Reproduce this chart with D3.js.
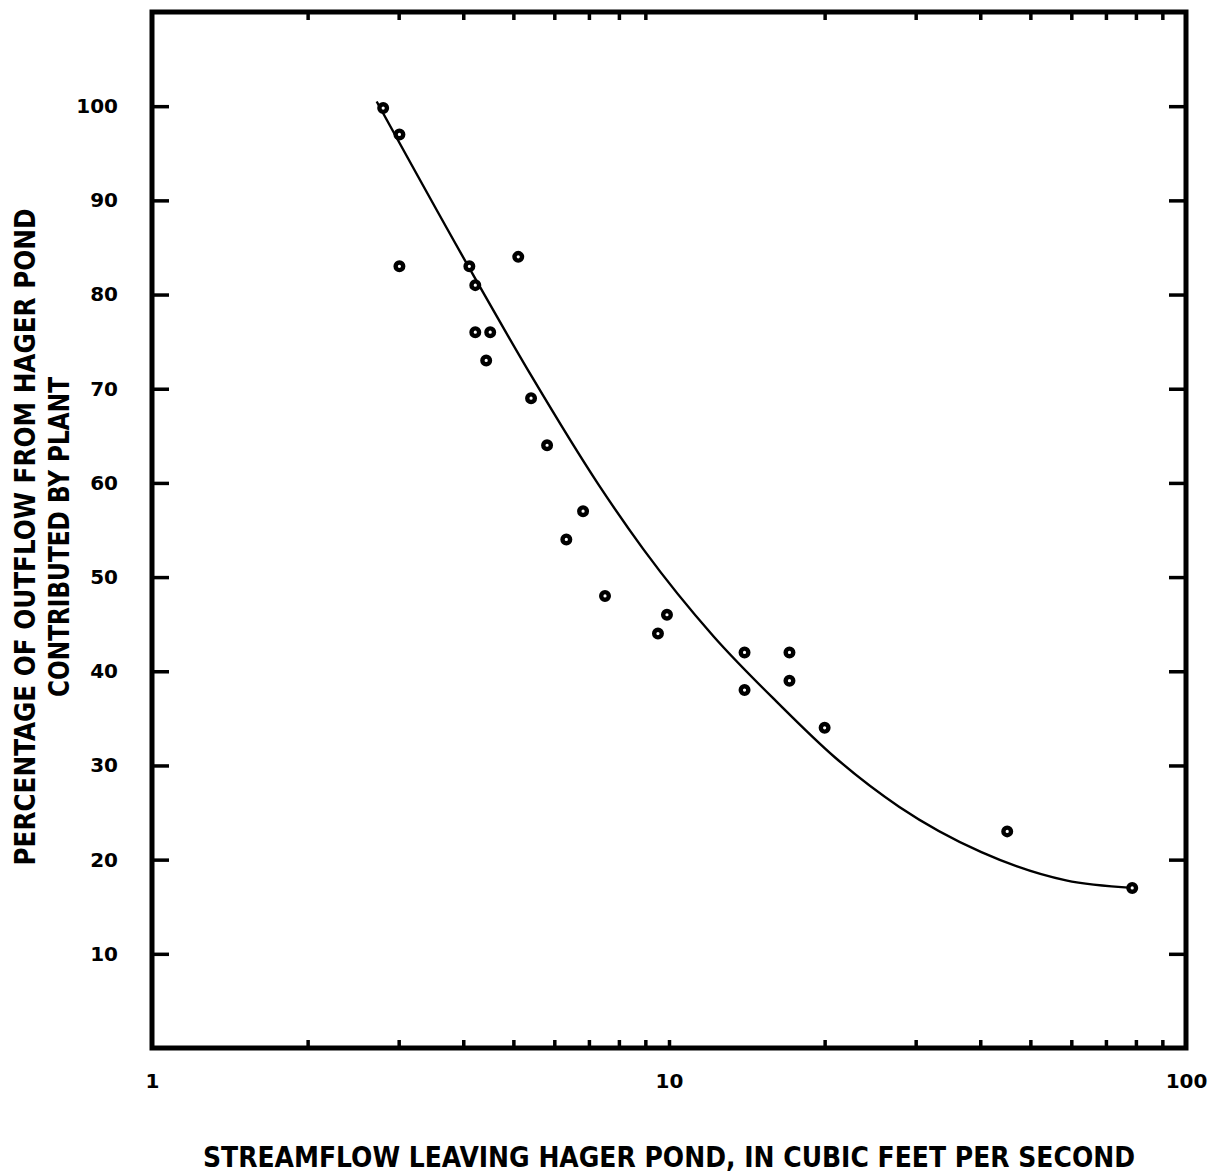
<!DOCTYPE html>
<html>
<head>
<meta charset="utf-8">
<script src="https://cdn.jsdelivr.net/npm/d3@7"></script>
<style>
  html, body { margin: 0; padding: 0; background: #fff; }
  svg { display: block; }
</style>
</head>
<body>
<div id="chart"></div>
<script>
// Observed points: streamflow (cfs) and percentage contributed by plant
var flowObs = [2.80, 3.01, 3.01, 4.11, 4.22, 4.22, 4.51, 4.43, 5.11, 5.41, 5.81,
               6.33, 6.82, 7.52, 9.52, 9.91, 14.0, 14.0, 17.1, 17.1, 20.0, 45.1, 78.7];
var pctObs  = [99.8, 97, 83, 83, 81, 76, 76, 73, 84, 69, 64,
               54, 57, 48, 44, 46, 42, 38, 42, 39, 34, 23, 17];

// Fitted curve
var flowCurve = [2.72, 4.11, 5.44, 7.29, 8.91, 12.2, 16.2, 20.9, 27.9, 40.2, 58.6, 78.7];
var pctCurve  = [100.5, 82.8, 71.2, 59.9, 53.0, 43.7, 36.7, 30.9, 25.6, 20.8, 17.8, 17.0];

var yTicks = [10, 20, 30, 40, 50, 60, 70, 80, 90, 100];
var xLabels = [1, 10, 100];
var xMinor = [2, 3, 4, 5, 6, 7, 8, 9, 20, 30, 40, 50, 60, 70, 80, 90];

var W = 1212, H = 1176;
var plotL = 152, plotR = 1186, plotT = 12, plotB = 1048;

var svg = d3.select('#chart').append('svg')
  .attr('width', W)
  .attr('height', H);

var x = d3.scaleLog().domain([1, 100]).range([plotL, plotR]);
var y = d3.scaleLinear().domain([0, 110]).range([plotB, plotT]);

var tickFont = 'DejaVu Sans, sans-serif';

// left axis, ticks pointing inward
var yLeft = svg.append('g')
  .attr('transform', 'translate(' + plotL + ',0)')
  .call(d3.axisLeft(y).tickValues(yTicks).tickSize(-17).tickPadding(34).tickFormat(d3.format('d')));

// right axis, ticks inward, no labels
var yRight = svg.append('g')
  .attr('transform', 'translate(' + plotR + ',0)')
  .call(d3.axisRight(y).tickValues(yTicks).tickSize(-17).tickFormat(''));

// bottom axis: labels at decades, minor ticks inward
var xBottom = svg.append('g')
  .attr('transform', 'translate(0,' + plotB + ')')
  .call(d3.axisBottom(x).tickValues(xLabels).tickSize(0).tickPadding(26).tickFormat(d3.format('d')));

var xBottomMinor = svg.append('g')
  .attr('transform', 'translate(0,' + plotB + ')')
  .call(d3.axisBottom(x).tickValues(xMinor.concat([10])).tickSize(-8).tickFormat(''));

var xTopMinor = svg.append('g')
  .attr('transform', 'translate(0,' + plotT + ')')
  .call(d3.axisTop(x).tickValues(xMinor).tickSize(-8).tickFormat(''));

[yLeft, yRight, xBottom, xBottomMinor, xTopMinor].forEach(function (g) {
  g.select('.domain').remove();
  g.selectAll('.tick line').attr('stroke', '#000').attr('stroke-width', 3.5);
  g.selectAll('.tick text')
    .attr('fill', '#000')
    .attr('font-family', tickFont)
    .attr('font-weight', 'bold')
    .attr('font-size', '20px');
});

// frame
svg.append('rect')
  .attr('x', plotL)
  .attr('y', plotT)
  .attr('width', plotR - plotL)
  .attr('height', plotB - plotT)
  .attr('fill', 'none')
  .attr('stroke', '#000')
  .attr('stroke-width', 5);

// fitted curve
var line = d3.line()
  .x(function (d) { return x(d[0]); })
  .y(function (d) { return y(d[1]); })
  .curve(d3.curveMonotoneX);

svg.append('path')
  .datum(d3.zip(flowCurve, pctCurve))
  .attr('d', line)
  .attr('fill', 'none')
  .attr('stroke', '#000')
  .attr('stroke-width', 2.4);

// observations
svg.append('g')
  .selectAll('circle')
  .data(d3.zip(flowObs, pctObs))
  .join('circle')
  .attr('cx', function (d) { return x(d[0]); })
  .attr('cy', function (d) { return y(d[1]); })
  .attr('r', 3.8)
  .attr('fill', '#fff')
  .attr('stroke', '#000')
  .attr('stroke-width', 4.4);

// axis titles
svg.append('text')
  .attr('x', 669)
  .attr('y', 1167)
  .attr('text-anchor', 'middle')
  .attr('font-family', 'DejaVu Sans Condensed, DejaVu Sans, sans-serif')
  .attr('font-weight', 'bold')
  .attr('font-size', '28px')
  .attr('textLength', 932)
  .attr('lengthAdjust', 'spacingAndGlyphs')
  .text('STREAMFLOW LEAVING HAGER POND, IN CUBIC FEET PER SECOND');

var yTitle = svg.append('g')
  .attr('transform', 'translate(0,537) rotate(-90)')
  .attr('font-family', 'DejaVu Sans Condensed, DejaVu Sans, sans-serif')
  .attr('font-weight', 'bold')
  .attr('font-size', '29px')
  .attr('text-anchor', 'middle');

yTitle.append('text')
  .attr('x', 0)
  .attr('y', 35)
  .attr('textLength', 657)
  .attr('lengthAdjust', 'spacingAndGlyphs')
  .text('PERCENTAGE OF OUTFLOW FROM HAGER POND');

yTitle.append('text')
  .attr('x', 0)
  .attr('y', 69)
  .attr('textLength', 320)
  .attr('lengthAdjust', 'spacingAndGlyphs')
  .text('CONTRIBUTED BY PLANT');
</script>
</body>
</html>
